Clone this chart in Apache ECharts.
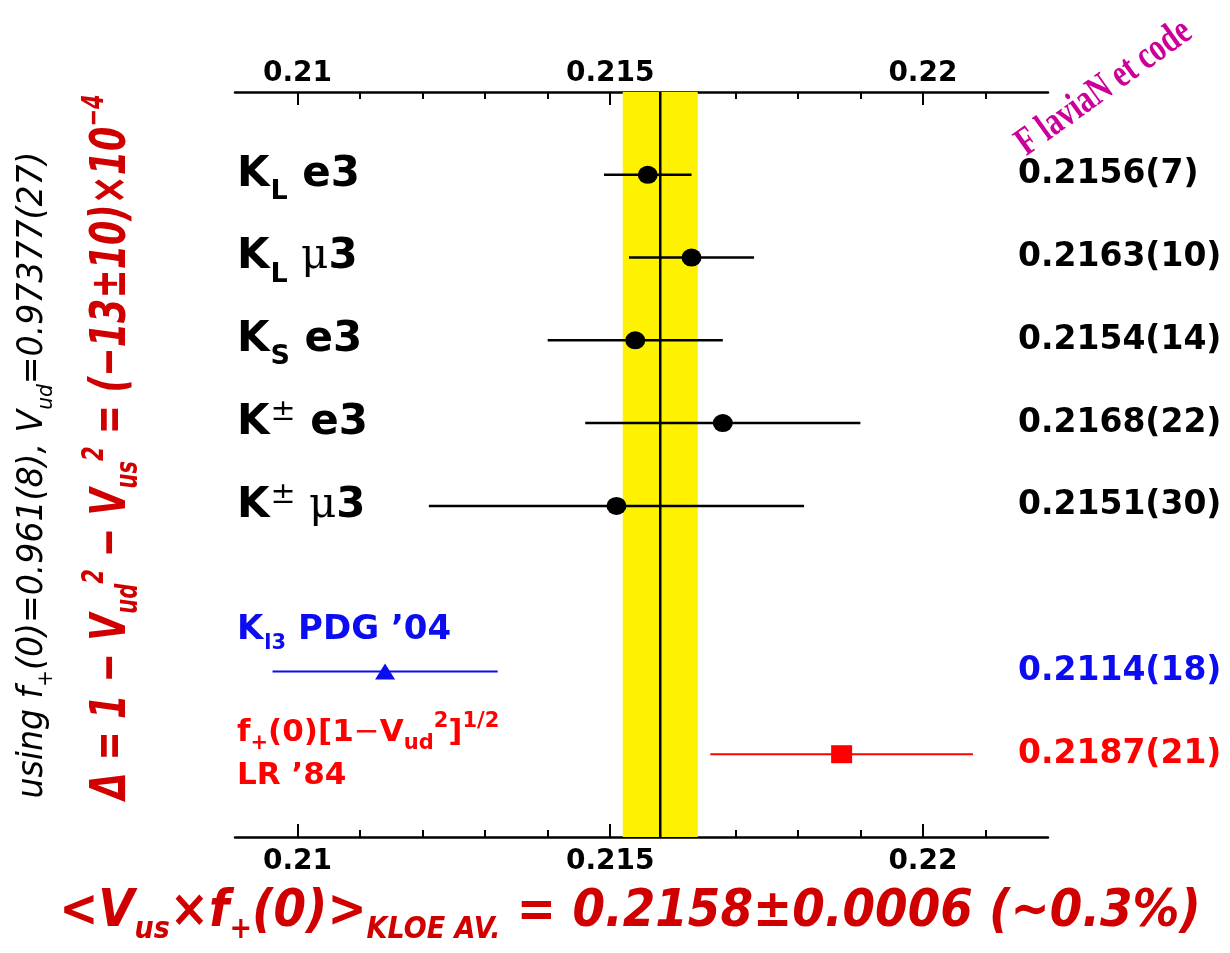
<!DOCTYPE html>
<html><head><meta charset="utf-8">
<script src="https://cdn.jsdelivr.net/npm/echarts@6/dist/echarts.min.js"></script>
<style>html,body{margin:0;padding:0;background:#fff}#c{width:1230px;height:953px}</style>
</head><body><div id="c"></div>
<script>
// ---- axis ranges & ticks ----
const xMin = 0.209, xMax = 0.222;
const yMin = 0, yMax = 9;
const majorTicks = [0.21, 0.215, 0.22];
const minorTicks = [0.211, 0.212, 0.213, 0.214, 0.216, 0.217, 0.218, 0.219, 0.221];

// ---- KLOE measurements ----
const kNames  = ['KL e3', 'KL μ3', 'KS e3', 'K± e3', 'K± μ3'];
const kRows   = [8, 7, 6, 5, 4];
const kValues = [0.2156, 0.2163, 0.2154, 0.2168, 0.2151];
const kErrors = [0.0007, 0.0010, 0.0014, 0.0022, 0.0030];
const kTexts  = ['0.2156(7)', '0.2163(10)', '0.2154(14)', '0.2168(22)', '0.2151(30)'];

// ---- PDG '04 ----
const pdgRow = 2, pdgValue = 0.2114, pdgError = 0.0018, pdgText = '0.2114(18)';
const pdgLabelRow = 2.5;
// ---- LR '84 ----
const lrRow = 1, lrValue = 0.2187, lrError = 0.0021, lrText = '0.2187(21)';
// ---- KLOE average ----
const avgValue = 0.2158, avgError = 0.0006;

// rich-text markup for row names
const kRich = [
  '{b|K}{sub|L}{b| e3}',
  '{b|K}{sub|L}{mu| μ}{b|3}',
  '{b|K}{sub|S}{b| e3}',
  '{b|K}{sup|±}{b| e3}',
  '{b|K}{sup|±}{mu| μ}{b|3}'
];

const SANS = 'DejaVu Sans';
const BLUE = '#0c0cf2', RED = '#ff0000', DRED = '#d00000';
const chart = echarts.init(document.getElementById('c'), null, {renderer: 'canvas'});

function errRender(color, width) {
  return function (params, api) {
    const p1 = api.coord([api.value(0), api.value(2)]);
    const p2 = api.coord([api.value(1), api.value(2)]);
    return {type: 'line', shape: {x1: p1[0], y1: p1[1], x2: p2[0], y2: p2[1]},
            style: {stroke: color, lineWidth: width}};
  };
}

function xAxisMain(pos, margin) {
  return {
    type: 'value', position: pos, min: xMin, max: xMax, offset: 0,
    axisLine: {show: true, onZero: false, lineStyle: {color: '#000', width: 2.5}},
    axisTick: {show: true, inside: true, length: 13, customValues: majorTicks, lineStyle: {color: '#000', width: 2}},
    axisLabel: {show: true, customValues: majorTicks, margin: margin,
      formatter: v => String(+(+v).toFixed(3)),
      color: '#000', fontFamily: SANS, fontWeight: 'bold', fontSize: 28},
    splitLine: {show: false}
  };
}
function xAxisMinor(pos) {
  return {
    type: 'value', position: pos, min: xMin, max: xMax, offset: 0,
    axisLine: {show: false, onZero: false},
    axisTick: {show: true, inside: true, length: 7, customValues: minorTicks, lineStyle: {color: '#000', width: 2}},
    axisLabel: {show: false},
    splitLine: {show: false}
  };
}

const labelRichK = {
  b:   {fontFamily: SANS, fontWeight: 'bold', fontSize: 42, color: '#000'},
  sub: {fontFamily: SANS, fontWeight: 'bold', fontSize: 27, color: '#000', padding: [34, 0, 0, 1]},
  sup: {fontFamily: 'DejaVu Serif', fontSize: 30, color: '#000', padding: [0, 0, 22, 1]},
  mu:  {fontFamily: 'DejaVu Serif', fontSize: 42, color: '#000'}
};

function labelSeries(data, label) {
  return {
    type: 'scatter', z: 5, symbolSize: 0.1, silent: true,
    itemStyle: {color: 'rgba(0,0,0,0)', opacity: 1},
    data: data,
    label: Object.assign({show: true, position: 'inside', opacity: 1}, label)
  };
}

const option = {
  animation: false,
  backgroundColor: '#fff',
  grid: {left: 235, right: 182, top: 92, bottom: 116, containLabel: false},
  xAxis: [xAxisMain('bottom', 11), xAxisMinor('bottom'), xAxisMain('top', 4), xAxisMinor('top')],
  yAxis: [{type: 'value', min: yMin, max: yMax, show: false}],
  series: [
    // KLOE average band + line
    {
      type: 'custom', z: 1, silent: true,
      data: [[avgValue - avgError, avgValue + avgError, avgValue]],
      encode: {x: [0, 1, 2]},
      renderItem: function (params, api) {
        const tl = api.coord([api.value(0), yMax]);
        const br = api.coord([api.value(1), yMin]);
        const mt = api.coord([api.value(2), yMax]);
        const mb = api.coord([api.value(2), yMin]);
        return {type: 'group', children: [
          {type: 'rect', shape: {x: tl[0], y: tl[1], width: br[0] - tl[0], height: br[1] - tl[1]},
           style: {fill: '#fff200'}},
          {type: 'line', shape: {x1: mt[0], y1: mt[1], x2: mb[0], y2: mb[1]},
           style: {stroke: '#000', lineWidth: 2.5}}
        ]};
      }
    },
    // KLOE error bars
    {
      type: 'custom', z: 3, silent: true,
      data: kValues.map((v, i) => [v - kErrors[i], v + kErrors[i], kRows[i]]),
      encode: {x: [0, 1], y: 2},
      renderItem: errRender('#000', 2.5)
    },
    {
      type: 'scatter', z: 4, symbol: 'circle', symbolSize: [20, 18],
      itemStyle: {color: '#000', opacity: 1},
      data: kValues.map((v, i) => [v, kRows[i]])
    },
    // PDG
    {
      type: 'custom', z: 3, silent: true,
      data: [[pdgValue - pdgError, pdgValue + pdgError, pdgRow]],
      encode: {x: [0, 1], y: 2},
      renderItem: errRender(BLUE, 2)
    },
    {
      type: 'scatter', z: 4, symbol: 'triangle', symbolSize: [20, 16],
      itemStyle: {color: BLUE, opacity: 1},
      data: [[pdgValue, pdgRow]]
    },
    // LR
    {
      type: 'custom', z: 3, silent: true,
      data: [[lrValue - lrError, lrValue + lrError, lrRow]],
      encode: {x: [0, 1], y: 2},
      renderItem: errRender(RED, 2)
    },
    {
      type: 'scatter', z: 4, symbol: 'rect', symbolSize: [21, 18],
      itemStyle: {color: RED, opacity: 1},
      data: [[lrValue, lrRow]]
    },
    // Left row labels
    labelSeries(kRows.map((r, i) => [xMin, r, i]), {
      align: 'left', offset: [2, 0],
      formatter: p => kRich[p.data[2]], rich: labelRichK
    }),
    // PDG label
    labelSeries([[xMin, pdgLabelRow]], {
      align: 'left', offset: [2, 0],
      formatter: '{b|K}{sub|l3}{b| PDG ’04}',
      rich: {
        b:   {fontFamily: SANS, fontWeight: 'bold', fontSize: 34, color: BLUE},
        sub: {fontFamily: SANS, fontWeight: 'bold', fontSize: 21, color: BLUE, padding: [26, 0, 0, 1]}
      }
    }),
    // LR label
    labelSeries([[xMin, lrRow]], {
      align: 'left', offset: [2, 0],
      formatter: '{b|f}{sub|+}{b|(0)[1}{m|−}{b|V}{sub|ud}{sup|2}{b|]}{sup|1/2}\n{b|LR ’84}',
      rich: {
        b:   {fontFamily: SANS, fontWeight: 'bold', fontSize: 31, color: RED, lineHeight: 43},
        m:   {fontFamily: 'DejaVu Serif', fontSize: 31, color: RED, lineHeight: 43},
        sub: {fontFamily: SANS, fontWeight: 'bold', fontSize: 21, color: RED, padding: [22, 0, 0, 0]},
        sup: {fontFamily: SANS, fontWeight: 'bold', fontSize: 21, color: RED, padding: [0, 0, 22, 0]}
      }
    }),
    // Right value labels
    labelSeries(kRows.map((r, i) => [xMax, r, i]), {
      align: 'left', offset: [-30, 0],
      formatter: p => kTexts[p.data[2]],
      fontFamily: SANS, fontWeight: 'bold', fontSize: 33, color: '#000'
    }),
    labelSeries([[xMax, pdgRow]], {
      align: 'left', offset: [-30, 0],
      formatter: pdgText, fontFamily: SANS, fontWeight: 'bold', fontSize: 33, color: BLUE
    }),
    labelSeries([[xMax, lrRow]], {
      align: 'left', offset: [-30, 0],
      formatter: lrText, fontFamily: SANS, fontWeight: 'bold', fontSize: 33, color: RED
    })
  ],
  graphic: [
    // left black annotation
    {
      type: 'text', x: 33, y: 475, rotation: Math.PI / 2, scaleX: 0.92, scaleY: 1,
      style: {
        text: '{t|using f}{s|+}{t|(0)=0.961(8), V}{s|ud}{t|=0.97377(27)}',
        align: 'center', verticalAlign: 'middle',
        rich: {
          t: {fontFamily: SANS, fontStyle: 'italic', fontSize: 36, fill: '#000'},
          s: {fontFamily: SANS, fontStyle: 'italic', fontSize: 22, fill: '#000', padding: [26, 0, 0, 0]}
        }
      }
    },
    // left red annotation
    {
      type: 'text', x: 112, y: 447, rotation: Math.PI / 2, scaleX: 0.7, scaleY: 1,
      style: {
        text: '{t|Δ = 1 − V}{s|ud}{p|2}{t| − V}{s|us}{p|2}{t| = (−13±10)×10}{p|−4}',
        align: 'center', verticalAlign: 'middle',
        rich: {
          t: {fontFamily: SANS, fontStyle: 'italic', fontWeight: 'bold', fontSize: 50, fill: DRED,
              textShadowColor: '#300000', textShadowOffsetX: -2, textShadowOffsetY: 2, textShadowBlur: 0},
          s: {fontFamily: SANS, fontStyle: 'italic', fontWeight: 'bold', fontSize: 30, fill: DRED, padding: [34, 0, 0, 0],
              textShadowColor: '#300000', textShadowOffsetX: -2, textShadowOffsetY: 2, textShadowBlur: 0},
          p: {fontFamily: SANS, fontStyle: 'italic', fontWeight: 'bold', fontSize: 30, fill: DRED, padding: [0, 0, 34, 0],
              textShadowColor: '#300000', textShadowOffsetX: -2, textShadowOffsetY: 2, textShadowBlur: 0}
        }
      }
    },
    // bottom average
    {
      type: 'text', x: 630, y: 912, scaleX: 0.9, scaleY: 1,
      style: {
        text: '{t|<V}{s|us}{t|×f}{s|+}{t|(0)>}{s|KLOE AV.}{t| = 0.2158±0.0006 (∼0.3%)}',
        align: 'center', verticalAlign: 'middle',
        rich: {
          t: {fontFamily: SANS, fontStyle: 'italic', fontWeight: 'bold', fontSize: 52, fill: DRED,
              textShadowColor: '#300000', textShadowOffsetX: 2, textShadowOffsetY: 2, textShadowBlur: 0},
          s: {fontFamily: SANS, fontStyle: 'italic', fontWeight: 'bold', fontSize: 30, fill: DRED, padding: [36, 0, 0, 0],
              textShadowColor: '#300000', textShadowOffsetX: 2, textShadowOffsetY: 2, textShadowBlur: 0}
        }
      }
    },
    // watermark
    {
      type: 'text', x: 1104, y: 88, rotation: 0.62, scaleX: 0.75, scaleY: 1,
      style: {
        text: 'F laviaN et code',
        align: 'center', verticalAlign: 'middle',
        fontFamily: 'Liberation Serif', fontWeight: 'bold', fontSize: 40, fill: '#cc0099',
        textShadowColor: '#000', textShadowOffsetX: -2, textShadowOffsetY: 2, textShadowBlur: 0
      }
    }
  ]
};
chart.setOption(option);
</script>
</body></html>
